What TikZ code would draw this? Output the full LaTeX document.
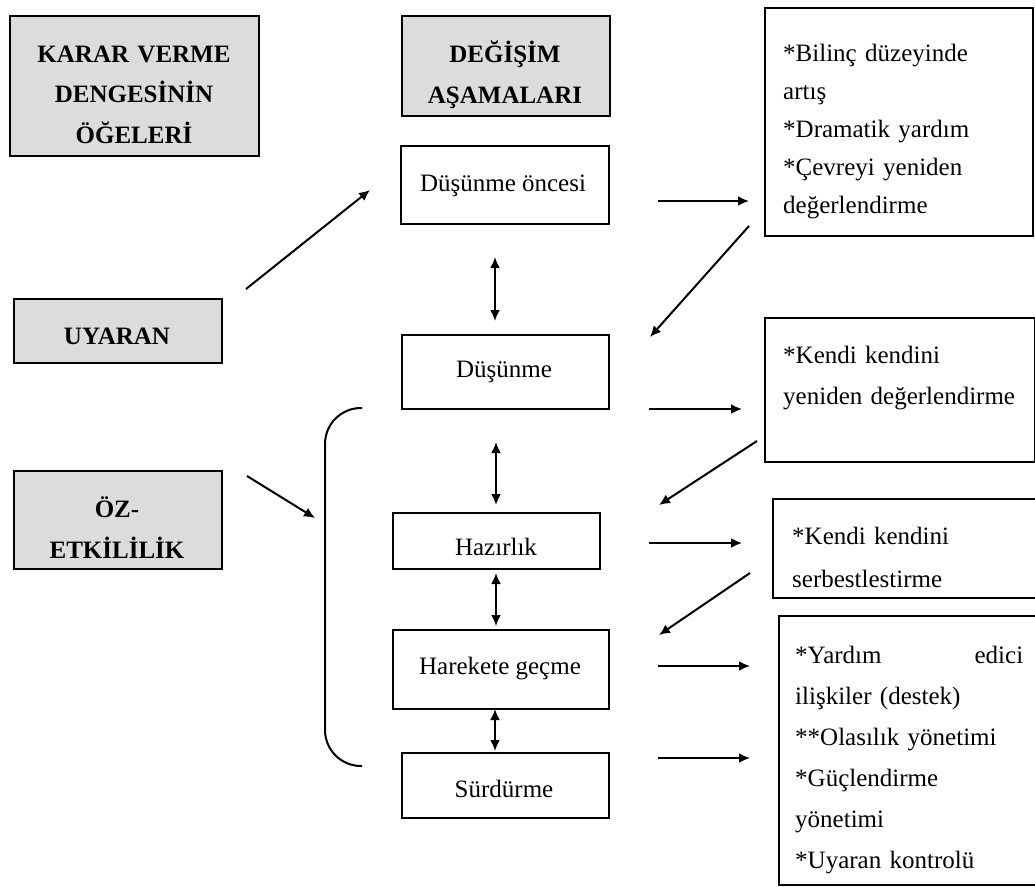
\documentclass[tikz,border=0pt]{standalone}
\usepackage{fontspec}
\setmainfont{Liberation Serif}
\usetikzlibrary{arrows.meta}
\definecolor{hgray}{RGB}{220,220,220}
\begin{document}
\begin{tikzpicture}[x=1pt,y=-1pt,
  gbox/.style={draw, line width=2.4pt, fill=hgray, inner sep=0pt, anchor=north west},
  wbox/.style={draw, line width=2.2pt, inner sep=0pt, anchor=north west},
  btxt/.style={font=\bfseries\fontsize{25}{#1}\selectfont, inner sep=0pt, align=center, text width=260pt, anchor=base},
  btxt/.default=40.5,
  stxt/.style={font=\fontsize{25}{30}\selectfont, inner sep=0pt, anchor=base},
  ltxt/.style={font=\fontsize{25}{#1}\selectfont, inner sep=0pt, align=left, anchor=base west},
  arr/.style={line width=2pt, -{Latex[length=11pt,width=10pt]}},
  darr/.style={line width=2pt, {Latex[length=11pt,width=10pt]}-{Latex[length=11pt,width=10pt]}}
]
\useasboundingbox (0,0) rectangle (1035,886);

% gray heading boxes
\node[gbox, minimum width=249pt, minimum height=140pt] (karar) at (9,15) {};
\node[btxt] (kararT) at (134,62) {KARAR VERME\\DENGES\.{I}N\.{I}N\\ÖĞELER\.{I}};
\node[gbox, minimum width=208pt, minimum height=100pt] (degisim) at (401,15) {};
\node[btxt=41] (degisimT) at (505,62) {DEĞ\.{I}Ş\.{I}M\\AŞAMALARI};
\node[gbox, minimum width=208pt, minimum height=64pt] (uyaran) at (13,298) {};
\node[btxt] (uyaranT) at (117,344) {UYARAN};
\node[gbox, minimum width=208pt, minimum height=98pt] (oz) at (13,470) {};
\node[btxt=41] (ozT) at (117,517) {ÖZ-\\ETK\.{I}L\.{I}L\.{I}K};

% stage boxes
\node[wbox, minimum width=208pt, minimum height=78pt] (pre) at (400,145) {};
\node[stxt] (preT) at (503,191) {Düşünme öncesi};
\node[wbox, minimum width=207pt, minimum height=74pt] (dus) at (401,334) {};
\node[stxt] (dusT) at (504,377) {Düşünme};
\node[wbox, minimum width=207pt, minimum height=56pt] (haz) at (392,512) {};
\node[stxt] (hazT) at (496,555) {Hazırlık};
\node[wbox, minimum width=216pt, minimum height=79pt] (har) at (392,629) {};
\node[stxt] (harT) at (500,674) {Harekete geçme};
\node[wbox, minimum width=207pt, minimum height=65pt] (sur) at (401,752) {};
\node[stxt] (surT) at (504,797) {Sürdürme};

% right boxes
\node[wbox, minimum width=268pt, minimum height=228pt] (r1) at (764,7) {};
\node[ltxt=38, text width=240pt] (r1T) at (783,61) {{*}Bilinç düzeyinde\\artış\\{*}Dramatik yardım\\{*}Çevreyi yeniden\\değerlendirme};
\node[wbox, minimum width=270pt, minimum height=144pt] (r2) at (764,317) {};
\node[ltxt=41, text width=240pt] (r2T) at (783,363) {{*}Kendi kendini\\yeniden değerlendirme};
\node[wbox, minimum width=275pt, minimum height=99pt] (r3) at (772,498) {};
\node[ltxt=43, text width=230pt] (r3T) at (792,544) {{*}Kendi kendini\\serbestlestirme};
\node[wbox, minimum width=270pt, minimum height=269pt] (r4) at (778,615) {};
\node[ltxt=41, text width=228pt] (r4T) at (795,663) {{*}Yardım\hfill edici\\ilişkiler (destek)\\{**}Olasılık yönetimi\\{*}Güçlendirme\\yönetimi\\{*}Uyaran kontrolü};

% bracket
\coordinate (bTop) at (362,408);
\coordinate (bBot) at (362,766);
\draw[line width=2pt, rounded corners=36pt] (bTop) -- (325,408) -- (325,766) -- (bBot);

% connector end points
\coordinate (u1) at (246,289);  \coordinate (u2) at (370,190);
\coordinate (o1) at (247,476);  \coordinate (o2) at (315,518);
\coordinate (v1a) at (495,257); \coordinate (v1b) at (495,321);
\coordinate (v2a) at (496,442); \coordinate (v2b) at (496,505);
\coordinate (v3a) at (496,573); \coordinate (v3b) at (496,626);
\coordinate (v4a) at (495,709); \coordinate (v4b) at (495,751);
\coordinate (h1a) at (658,201); \coordinate (h1b) at (749,201);
\coordinate (d1a) at (749,226); \coordinate (d1b) at (650,337);
\coordinate (h2a) at (649,409); \coordinate (h2b) at (742,409);
\coordinate (d2a) at (757,441); \coordinate (d2b) at (659,505);
\coordinate (h3a) at (649,543); \coordinate (h3b) at (742,543);
\coordinate (d3a) at (750,573); \coordinate (d3b) at (659,635);
\coordinate (h4a) at (658,666); \coordinate (h4b) at (750,666);
\coordinate (h5a) at (658,758); \coordinate (h5b) at (750,758);

\draw[arr] (u1) -- (u2);
\draw[arr] (o1) -- (o2);
\draw[darr] (v1a) -- (v1b);
\draw[darr] (v2a) -- (v2b);
\draw[darr] (v3a) -- (v3b);
\draw[darr] (v4a) -- (v4b);
\draw[arr] (h1a) -- (h1b);
\draw[arr] (d1a) -- (d1b);
\draw[arr] (h2a) -- (h2b);
\draw[arr] (d2a) -- (d2b);
\draw[arr] (h3a) -- (h3b);
\draw[arr] (d3a) -- (d3b);
\draw[arr] (h4a) -- (h4b);
\draw[arr] (h5a) -- (h5b);
\end{tikzpicture}
\end{document}
